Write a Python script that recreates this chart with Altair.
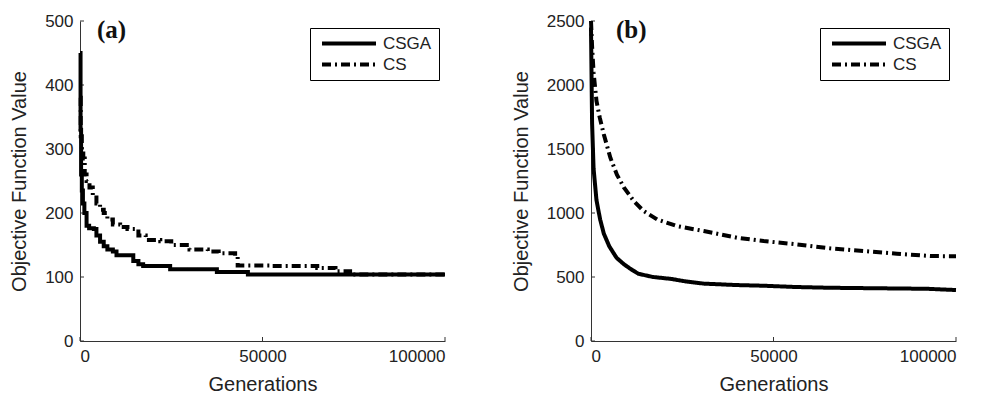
import altair as alt
import pandas as pd

# ---------------- data ----------------
series_names = ["CSGA", "CS"]

a_csga_gen = [0, 150, 300, 500, 800, 1200, 1800, 2500, 3800, 4500, 5500, 6500, 7500, 9000,
              10000, 14600, 16000, 17300, 24700, 37500, 46000, 100000]
a_csga_val = [450, 330, 260, 235, 215, 200, 180, 176, 175, 165, 155, 148, 143, 140,
              134, 125, 120, 117, 112, 108, 104, 104]

a_cs_gen = [0, 200, 500, 900, 1300, 1800, 2600, 3500, 4500, 5500, 6500, 7500, 9000, 11000,
            13000, 16000, 18000, 22000, 25000, 30000, 35000, 38000, 42500, 43200, 52000,
            65000, 70000, 74000, 100000]
a_cs_val = [380, 320, 300, 285, 260, 250, 240, 228, 215, 205, 200, 190, 182, 178,
            175, 165, 158, 156, 150, 143, 140, 137, 133, 118, 117,
            114, 109, 104, 104]

b_csga_gen = [0, 300, 700, 1500, 2500, 3500, 5000, 7000, 9000, 11000, 13000, 17000, 22000,
              26000, 31000, 40000, 47000, 56000, 65000, 75000, 85000, 92000, 100000]
b_csga_val = [2450, 1700, 1350, 1100, 950, 840, 740, 650, 600, 560, 525, 500, 485,
              465, 448, 437, 432, 422, 416, 413, 410, 408, 398]

b_cs_gen = [0, 300, 700, 1500, 2400, 3500, 5300, 7100, 9000, 11700, 14400, 18100, 23500,
            30900, 40000, 47300, 56400, 65500, 74700, 83800, 92900, 100000]
b_cs_val = [2500, 2300, 2100, 1875, 1745, 1615, 1432, 1300, 1200, 1094, 1016, 950, 898,
            859, 807, 781, 755, 724, 703, 682, 664, 662]

x_ticks = [0, 50000, 100000]
a_y_ticks = [0, 100, 200, 300, 400, 500]
b_y_ticks = [0, 500, 1000, 1500, 2000, 2500]

AXIS_COLOR = "#333333"
FONT = "Liberation Sans"
W, H = 365, 320


def make_df(gen1, val1, gen2, val2):
    d1 = pd.DataFrame({"gen": gen1, "val": val1, "series": series_names[0]})
    d2 = pd.DataFrame({"gen": gen2, "val": val2, "series": series_names[1]})
    return pd.concat([d2, d1], ignore_index=True)


def panel(df, y_ticks, ymax, label, interp, legend_x, label_x):
    xs = alt.Scale(domain=[0, 100000], nice=False)
    ys = alt.Scale(domain=[0, ymax], nice=False)
    lines = alt.Chart(df).mark_line(strokeWidth=4, color="black", strokeCap="butt",
                                    interpolate=interp).encode(
        x=alt.X("gen:Q", scale=xs,
                axis=alt.Axis(values=x_ticks, format="d", title="Generations",
                              ticks=False, labelPadding=7, titlePadding=10)),
        y=alt.Y("val:Q", scale=ys,
                axis=alt.Axis(values=y_ticks, format="d", title="Objective Function Value",
                              ticks=False, labelPadding=7, titlePadding=15)),
        strokeDash=alt.StrokeDash(
            "series:N",
            scale=alt.Scale(domain=series_names, range=[[1, 0], [9, 4, 2, 4]]),
            sort=series_names,
            legend=alt.Legend(orient="none", legendX=legend_x, legendY=7, title=None,
                              symbolType="stroke", symbolSize=2916, symbolStrokeWidth=4,
                              symbolStrokeColor="black", symbolOffset=3,
                              strokeColor="black", fillColor="white", padding=7,
                              labelFont=FONT, labelFontSize=17, labelColor="#222222",
                              labelOffset=5, rowPadding=3, clipHeight=17),
        ),
        order=alt.Order("ord:Q"),
        detail="series:N",
    ).transform_calculate(ord="datum.series == 'CS' ? 0 : 1")

    yt = alt.Chart(pd.DataFrame({"t": y_ticks})).mark_rule(color=AXIS_COLOR, strokeWidth=1).encode(
        y=alt.Y("t:Q", scale=ys), x=alt.value(0), x2=alt.value(4))
    xt = alt.Chart(pd.DataFrame({"t": x_ticks})).mark_rule(color=AXIS_COLOR, strokeWidth=1).encode(
        x=alt.X("t:Q", scale=xs), y=alt.value(H), y2=alt.value(H - 4))
    txt = alt.Chart(pd.DataFrame({"lab": [label]})).mark_text(
        font="Liberation Serif", fontWeight="bold", fontSize=25, align="left",
        baseline="alphabetic", color="#111111").encode(
        text="lab:N", x=alt.value(label_x), y=alt.value(17))
    return alt.layer(yt, xt, lines, txt).properties(width=W, height=H)


dfa = make_df(a_csga_gen, a_csga_val, a_cs_gen, a_cs_val)
dfb = make_df(b_csga_gen, b_csga_val, b_cs_gen, b_cs_val)

pa = panel(dfa, a_y_ticks, 500, "(a)", "step-after", 230, 17)
pb = panel(dfb, b_y_ticks, 2500, "(b)", "linear", 229, 25)

chart = alt.hconcat(pa, pb, spacing=58).resolve_scale(
    strokeDash="independent").resolve_legend(strokeDash="independent").properties(
    padding={"left": 1, "top": 4, "right": 0, "bottom": 0}
).configure_view(strokeWidth=0).configure_axis(
    domainColor=AXIS_COLOR, domainWidth=1, grid=False,
    labelFont=FONT, labelFontSize=17, labelColor="#222222",
    titleFont=FONT, titleFontSize=20, titleFontWeight="normal", titleColor="#222222",
)

chart.save("out.html", embed_options={"renderer": "svg", "actions": False})
